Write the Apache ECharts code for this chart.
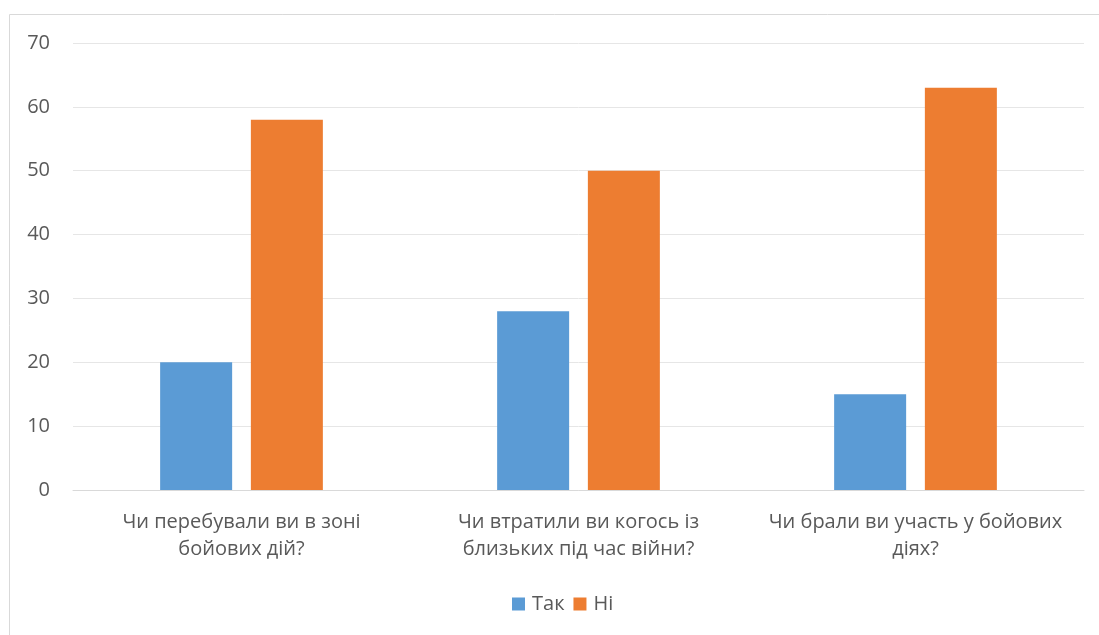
<!DOCTYPE html>
<html>
<head>
<meta charset="utf-8">
<script src="https://cdn.jsdelivr.net/npm/echarts@6/dist/echarts.min.js"></script>
<style>
  html, body { margin: 0; padding: 0; background: #fff; }
  #chart { width: 1099px; height: 635px; }
</style>
</head>
<body>
<div id="chart"></div>
<script>
// Survey questions (categories) and answer counts
const categories = [
  'Чи перебували ви в зоні\nбойових дій?',
  'Чи втратили ви когось із\nблизьких під час війни?',
  'Чи брали ви участь у бойових\nдіях?'
];
const yesValues = [20, 28, 15];
const noValues = [58, 50, 63];
const seriesNames = ['Так', 'Ні'];

const FONT = '"Open Sans", "Noto Sans", sans-serif';
const TEXT = '#595959';

const chart = echarts.init(document.getElementById('chart'));
chart.setOption({
  animation: false,
  textStyle: { fontFamily: FONT },
  graphic: [{
    type: 'rect',
    shape: { x: 9.5, y: 14.5, width: 1200, height: 700 },
    style: { fill: 'none', stroke: '#d9d9d9', lineWidth: 1 },
    silent: true,
    z: -1
  }],
  grid: { left: 73, right: 15, top: 43, bottom: 145, containLabel: false },
  legend: {
    data: seriesNames,
    top: 594,
    left: 512,
    itemWidth: 13,
    itemHeight: 13,
    itemGap: 9,
    padding: 0,
    icon: 'rect',
    textStyle: { color: TEXT, fontSize: 20, fontFamily: FONT, padding: [0, 0, 0, 2] }
  },
  xAxis: {
    type: 'category',
    data: categories,
    axisLine: { lineStyle: { color: '#d9d9d9', width: 1 } },
    axisTick: { show: false },
    axisLabel: { interval: 0, color: TEXT, fontSize: 20, lineHeight: 27, margin: 19, fontFamily: FONT }
  },
  yAxis: {
    type: 'value',
    min: 0,
    max: 70,
    interval: 10,
    axisLine: { show: false },
    axisTick: { show: false },
    splitLine: { lineStyle: { color: '#e6e6e6', width: 1 } },
    axisLabel: { color: TEXT, fontSize: 20, margin: 23, fontFamily: FONT }
  },
  series: [
    {
      name: seriesNames[0],
      type: 'bar',
      data: yesValues,
      barWidth: 72,
      barGap: '26%',
      itemStyle: { color: '#5b9bd5' }
    },
    {
      name: seriesNames[1],
      type: 'bar',
      data: noValues,
      barWidth: 72,
      barGap: '26%',
      itemStyle: { color: '#ed7d31' }
    }
  ]
});
</script>
</body>
</html>
